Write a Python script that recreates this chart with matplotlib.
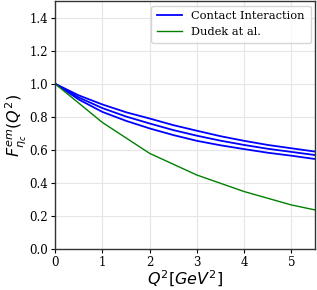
import numpy as np
import matplotlib
matplotlib.use("Agg")
import matplotlib.pyplot as plt

# Q^2 grid and contact interaction band (upper, central, lower)
q2_ci = [0.0, 0.5, 1.0, 1.5, 2.0, 2.5, 3.0, 3.5, 4.0, 4.5, 5.0, 5.5]
ci_upper = [1.0, 0.930, 0.875, 0.828, 0.790, 0.750, 0.716, 0.683, 0.655, 0.630, 0.610, 0.590]
ci_mid = [1.0, 0.917, 0.853, 0.802, 0.760, 0.720, 0.686, 0.656, 0.630, 0.607, 0.588, 0.569]
ci_lower = [1.0, 0.905, 0.830, 0.776, 0.730, 0.690, 0.655, 0.628, 0.605, 0.583, 0.565, 0.545]

# Dudek et al. (lattice)
q2_dudek = [0.0, 1.0, 2.0, 3.0, 4.0, 5.0, 5.5]
f_dudek = [1.0, 0.766, 0.579, 0.448, 0.348, 0.267, 0.237]


def main():
    fig = plt.figure(figsize=(3.17, 2.90), dpi=100)
    ax = fig.add_axes([0.174, 0.141, 0.820, 0.855])

    ax.plot(q2_ci, ci_upper, color='blue', lw=1.3, label='Contact Interaction')
    ax.plot(q2_ci, ci_mid, color='blue', lw=1.3)
    ax.plot(q2_ci, ci_lower, color='blue', lw=1.3)
    ax.plot(q2_dudek, f_dudek, color='green', lw=1.0, label='Dudek at al.')

    ax.set_xlim(0, 5.5)
    ax.set_ylim(0, 1.5)
    ax.set_xticks([0, 1, 2, 3, 4, 5])
    ax.set_yticks([0.0, 0.2, 0.4, 0.6, 0.8, 1.0, 1.2, 1.4])
    ax.set_yticklabels(['0.0', '0.2', '0.4', '0.6', '0.8', '1.0', '1.2', '1.4'])
    for lab in ax.get_xticklabels() + ax.get_yticklabels():
        lab.set_family('DejaVu Serif')
        lab.set_fontsize(8.5)
    ax.tick_params(direction='out', length=3, width=0.8, pad=2)

    ax.grid(True, color='#e6e6e6', lw=0.8)
    ax.set_axisbelow(True)
    for sp in ax.spines.values():
        sp.set_color('#333333')
        sp.set_linewidth(1.0)

    ax.set_xlabel(r'$Q^2[GeV^2]$', fontsize=11.5, labelpad=0)
    ax.set_ylabel(r'$F^{em}_{\eta_c}(Q^2)$', fontsize=11.5, labelpad=0)

    ax.legend(loc='upper right', prop={'family': 'DejaVu Serif', 'size': 8.2},
              handlelength=2.2, borderaxespad=0.4, borderpad=0.5)

    fig.savefig('out.png', dpi=100)


if __name__ == "__main__":
    main()
